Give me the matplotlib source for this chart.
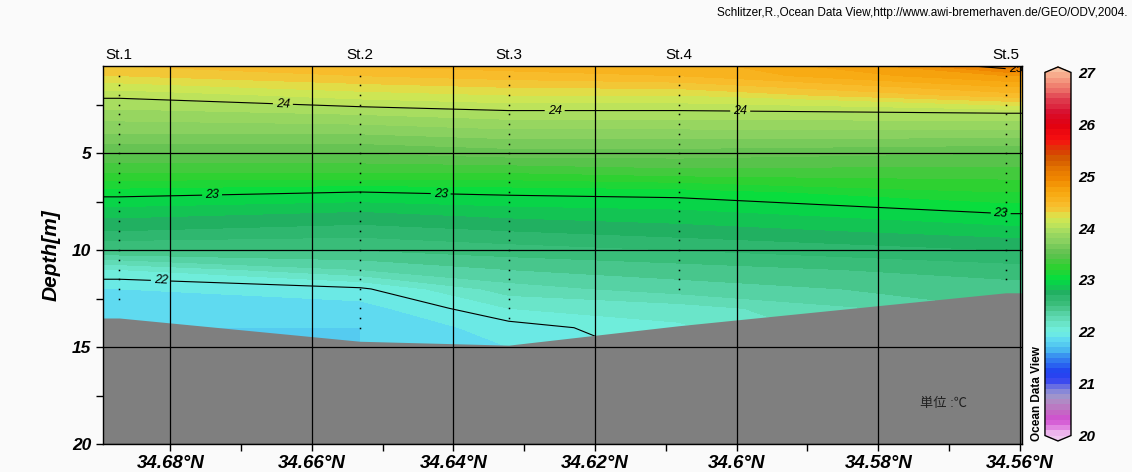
import numpy as np
import matplotlib
matplotlib.use('Agg')
import matplotlib.pyplot as plt
from matplotlib.colors import LinearSegmentedColormap
from matplotlib.ticker import MultipleLocator, FuncFormatter

plt.rcParams['font.family'] = ['Liberation Sans', 'Noto Sans CJK JP', 'DejaVu Sans']

# stations (latitude, deg N)
stations = ['St.1', 'St.2', 'St.3', 'St.4', 'St.5']
station_lat = [34.6872, 34.6532, 34.6322, 34.6082, 34.5620]
bottom_depth = [13.5, 14.7, 14.9, 13.9, 12.2]
sample_max = [12.5, 14.0, 13.5, 12.0, 11.5]
sample_depths = [1.0, 1.5, 2.0, 2.5, 3.0, 3.5, 4.0, 4.5, 5.0, 5.5, 6.0, 6.5, 7.0,
                 7.5, 8.0, 8.5, 9.0, 9.5, 10.0, 10.5, 11.0, 11.5, 12.0, 12.5,
                 13.0, 13.5, 14.0]

# temperature profiles (degC) at these depths
depth = [0, 1, 2, 3, 4, 5, 6, 7, 8, 9, 10, 11, 12, 13, 14, 15]
t_st1 = [24.50, 24.30, 24.03, 23.85, 23.70, 23.50, 23.30, 23.05, 22.85, 22.70, 22.50, 22.10, 21.90, 21.82, 21.80, 21.80]
t_st2 = [24.60, 24.40, 24.15, 23.90, 23.70, 23.50, 23.30, 23.00, 22.80, 22.65, 22.50, 22.30, 21.98, 21.85, 21.80, 21.80]
t_st3 = [24.65, 24.45, 24.20, 23.95, 23.75, 23.55, 23.30, 23.03, 22.85, 22.70, 22.55, 22.40, 22.25, 22.10, 21.95, 21.90]
t_st4 = [24.60, 24.50, 24.20, 23.95, 23.75, 23.55, 23.35, 23.05, 22.88, 22.75, 22.60, 22.45, 22.35, 22.15, 22.08, 22.05]
t_st5 = [25.35, 24.80, 24.45, 23.97, 23.75, 23.50, 23.35, 23.20, 23.02, 22.85, 22.70, 22.55, 22.45, 22.40, 22.40, 22.40]

lat_ticks = [34.68, 34.66, 34.64, 34.62, 34.60, 34.58, 34.56]
xlim = (34.6895, 34.5597)

# ODV-like palette
pal = [(20.0, '#f0c0f0'), (20.15, '#e080e0'), (20.3, '#d050d0'), (20.5, '#c070c0'),
       (20.7, '#a898c8'), (20.85, '#8888d8'), (21.05, '#3848f0'), (21.2, '#2040f0'),
       (21.45, '#3078f0'), (21.65, '#48b8f0'), (21.85, '#60dcf0'), (22.0, '#70f0e0'),
       (22.2, '#68e0c0'), (22.5, '#40c080'), (22.75, '#20b060'), (23.0, '#00e040'),
       (23.25, '#30d030'), (23.5, '#60c050'), (23.75, '#88d060'), (24.0, '#b0e060'),
       (24.2, '#d8e850'), (24.4, '#f8c030'), (24.7, '#f8a810'), (24.95, '#f08800'),
       (25.2, '#e07000'), (25.4, '#d05000'), (25.7, '#f81010'), (26.0, '#e00010'),
       (26.25, '#d81030'), (26.5, '#e04050'), (26.75, '#f08070'), (27.0, '#f8b090')]
cmap = LinearSegmentedColormap.from_list('odv', [((v - 20) / 7, c) for v, c in pal])
cmap.set_over('#f8c0a0')
cmap.set_under('#f0c8f0')

fig = plt.figure(figsize=(11.32, 4.72), dpi=100, facecolor='#fafafa')
ax = fig.add_axes([0.0910, 0.0593, 0.8118, 0.8009])
cax = fig.add_axes([0.9231, 0.0657, 0.0230, 0.7924])

# field, padded to the plot edges
T = np.column_stack([t_st1, t_st1, t_st2, t_st3, t_st4, t_st5, t_st5])
X = [xlim[0]] + station_lat + [xlim[1]]
levels = np.arange(20, 27.001, 0.1)
cf = ax.contourf(X, depth, T, levels=levels, cmap=cmap, extend='both', zorder=1)
cs = ax.contour(X, depth, T, levels=[22, 23, 24, 25], colors='k', linewidths=0.8, zorder=2)
lbl = ax.clabel(cs, fmt='%d', inline=True, fontsize=9, inline_spacing=3,
                manual=[(34.6641, 2.5), (34.6257, 2.8), (34.5995, 2.8),
                        (34.6741, 7.1), (34.6418, 7.05), (34.5627, 8.1),
                        (34.6813, 11.4), (34.5606, 0.6)])
for t in lbl:
    t.set_style('italic')

# sea floor
bx = [xlim[0]] + station_lat + [xlim[1]]
by = [bottom_depth[0]] + bottom_depth + [bottom_depth[-1]]
ax.fill_between(bx, by, 20, color='#7f7f7f', lw=0, zorder=2.2)

# sample points
for lat, dmax in zip(station_lat, sample_max):
    d = [v for v in sample_depths if v <= dmax]
    ax.plot([lat] * len(d), d, ls='none', marker='s', ms=1.1, mec='none', mfc='k', zorder=3)

ax.set_xlim(*xlim)
ax.set_ylim(20, 0.5)
ax.xaxis.set_major_locator(MultipleLocator(0.02))
ax.xaxis.set_minor_locator(MultipleLocator(0.01))
ax.yaxis.set_major_locator(MultipleLocator(5))
ax.yaxis.set_minor_locator(MultipleLocator(2.5))
ax.xaxis.set_major_formatter(FuncFormatter(lambda v, p: f'{round(v, 2):g}°N'))
ax.grid(True, which='major', color='k', lw=0.9)
ax.set_axisbelow(False)
ax.tick_params(which='both', direction='out', length=5, width=1, color='k')
for lab in ax.get_xticklabels():
    lab.set_fontsize(13.5)
for lab in ax.get_yticklabels():
    lab.set_fontsize(12.5)
for lab in ax.get_xticklabels() + ax.get_yticklabels():
    lab.set_fontweight('bold')
    lab.set_style('italic')
ax.tick_params(axis='x', pad=3)
for s in ax.spines.values():
    s.set_linewidth(1)
ax.set_ylabel('Depth[m]', fontsize=15, fontweight='bold', style='italic', labelpad=8)

for name, lat in zip(stations, station_lat):
    ax.text(lat, 1.01, name, transform=ax.get_xaxis_transform(), ha='center',
            va='bottom', fontsize=11)

ax.text(0.94, 0.105, '単位 :℃', transform=ax.transAxes, ha='right', va='center',
        fontsize=9.5, color='#202020', zorder=5)

cb = fig.colorbar(cf, cax=cax, extend='both', extendfrac=0.015, ticks=range(20, 28))
cb.outline.set_linewidth(1)
cax.tick_params(length=0, pad=5)
for lab in cax.get_yticklabels():
    lab.set_fontsize(11)
    lab.set_fontweight('bold')
    lab.set_style('italic')

fig.text(0.9165, 0.065, 'Ocean Data View', rotation=90, ha='center', va='bottom',
         fontsize=8.5, fontweight='bold')
fig.text(0.996, 0.972, 'Schlitzer,R.,Ocean Data View,http://www.awi-bremerhaven.de/GEO/ODV,2004.',
         ha='right', va='center', fontsize=8.5)

fig.savefig('out.png', dpi=100, facecolor=fig.get_facecolor())
